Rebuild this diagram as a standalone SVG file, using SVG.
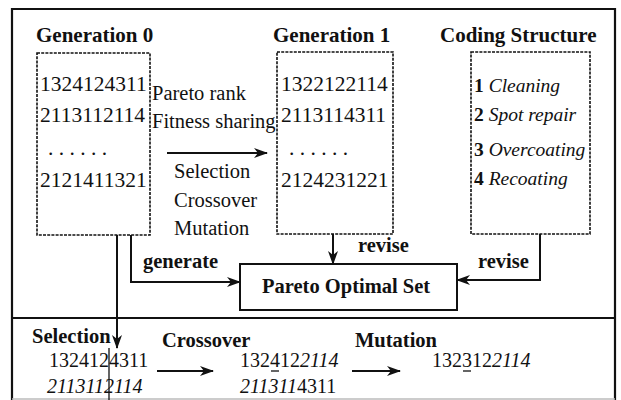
<svg xmlns="http://www.w3.org/2000/svg" width="621" height="400" viewBox="0 0 621 400">
  <style>
    text { font-family: "Liberation Serif", "Times New Roman", serif; fill: #111; }
    .title { font-size: 21px; font-weight: bold; }
    .code { font-size: 21.5px; }
    .op { font-size: 20.5px; }
    .lbl { font-size: 20.5px; font-weight: bold; }
    .item { font-size: 19.5px; }
    .it { font-style: italic; }
    .b { font-weight: bold; }
    .small { font-size: 20px; }
    .dashbox { fill: none; stroke: #111; stroke-width: 1.6; stroke-dasharray: 3 1.2; }
    .solidbox { fill: none; stroke: #111; stroke-width: 2; }
    .frame { fill: none; stroke: #111; stroke-width: 2.2; }
    .conn { fill: none; stroke: #111; stroke-width: 2; }
    .thin { fill: none; stroke: #111; stroke-width: 1.3; }
  </style>
  <defs>
    <marker id="arrow" viewBox="0 0 14 10" refX="13" refY="5" markerWidth="14" markerHeight="10" markerUnits="userSpaceOnUse" orient="auto">
      <path d="M0,0 L14,5 L0,10 L4,5 Z" fill="#111"/>
    </marker>
  </defs>

  <rect width="621" height="400" fill="#fff"/>

  <!-- outer frame and section divider -->
  <g id="frame">
    <path class="frame" d="M12,400 V9 H615 V400"/>
    <line x1="12" y1="399" x2="615" y2="399" stroke="#bbb" stroke-width="1.5"/>
    <line x1="12" y1="318" x2="615" y2="318" stroke="#111" stroke-width="2.2"/>
  </g>

  <!-- Generation 0 population -->
  <g id="gen0">
    <text class="title" x="36" y="42">Generation 0</text>
    <rect class="dashbox" x="37" y="53" width="113" height="182"/>
    <text class="code" x="40" y="91">1324124311</text>
    <text class="code" x="40" y="122">2113112114</text>
    <text class="code" x="48" y="155">. . . . . .</text>
    <text class="code" x="40" y="187">2121411321</text>
  </g>

  <!-- Generation 1 population -->
  <g id="gen1">
    <text class="title" x="273" y="42">Generation 1</text>
    <rect class="dashbox" x="277" y="52" width="116" height="182"/>
    <text class="code" x="281" y="91">1322122114</text>
    <text class="code" x="281" y="122">2113114311</text>
    <text class="code" x="289" y="155">. . . . . .</text>
    <text class="code" x="281" y="187">2124231221</text>
  </g>

  <!-- Coding structure -->
  <g id="coding">
    <text class="title" x="440" y="42">Coding Structure</text>
    <rect class="dashbox" x="471" y="52" width="119" height="182"/>
    <text class="item" x="474" y="92"><tspan class="b">1</tspan> <tspan class="it">Cleaning</tspan></text>
    <text class="item" x="474" y="121"><tspan class="b">2</tspan> <tspan class="it">Spot repair</tspan></text>
    <text class="item" x="474" y="156"><tspan class="b">3</tspan> <tspan class="it">Overcoating</tspan></text>
    <text class="item" x="474" y="185"><tspan class="b">4</tspan> <tspan class="it">Recoating</tspan></text>
  </g>

  <!-- Pareto optimal set -->
  <g id="pareto">
    <rect class="solidbox" x="240" y="264" width="217" height="46"/>
    <text class="lbl" x="262" y="293">Pareto Optimal Set</text>
  </g>

  <!-- genetic operators between generations -->
  <g id="operators">
    <text class="op" x="152" y="100">Pareto rank</text>
    <text class="op" x="152" y="128">Fitness sharing</text>
    <text class="op" x="174" y="178">Selection</text>
    <text class="op" x="174" y="207">Crossover</text>
    <text class="op" x="174" y="235">Mutation</text>
  </g>

  <!-- connectors -->
  <g id="connectors">
    <line class="conn" x1="167" y1="153" x2="267" y2="153" marker-end="url(#arrow)"/>
    <line class="conn" x1="117" y1="235" x2="117" y2="348" marker-end="url(#arrow)"/>
    <path class="conn" d="M131,235 V282 H240" marker-end="url(#arrow)"/>
    <line class="conn" x1="333" y1="234" x2="333" y2="264" marker-end="url(#arrow)"/>
    <path class="conn" d="M540,234 V280 H457" marker-end="url(#arrow)"/>
    <line class="conn" x1="157" y1="371" x2="213" y2="371" marker-end="url(#arrow)"/>
    <line class="conn" x1="352" y1="371" x2="400" y2="371" marker-end="url(#arrow)"/>
    <line class="thin" x1="109" y1="348" x2="109" y2="400"/>
    <text class="lbl" x="143" y="268">generate</text>
    <text class="lbl" x="358" y="252">revise</text>
    <text class="lbl" x="478" y="268">revise</text>
  </g>

  <!-- operator example: selection, crossover, mutation -->
  <g id="example">
    <text class="lbl" x="32" y="343">Selection</text>
    <text class="small" x="49" y="367">1324124311</text>
    <text class="small it" x="47" y="393">2113112114</text>

    <text class="lbl" x="162" y="347">Crossover</text>
    <text class="small" x="240" y="367">132412<tspan class="it">2114</tspan></text>
    <text class="small" x="240" y="393"><tspan class="it">211311</tspan>4311</text>
    <line x1="271" y1="371" x2="279" y2="371" stroke="#111" stroke-width="1.3"/>

    <text class="lbl" x="355" y="347">Mutation</text>
    <text class="small" x="432" y="367">132312<tspan class="it">2114</tspan></text>
    <line x1="463" y1="371" x2="471" y2="371" stroke="#111" stroke-width="1.3"/>
  </g>
</svg>
